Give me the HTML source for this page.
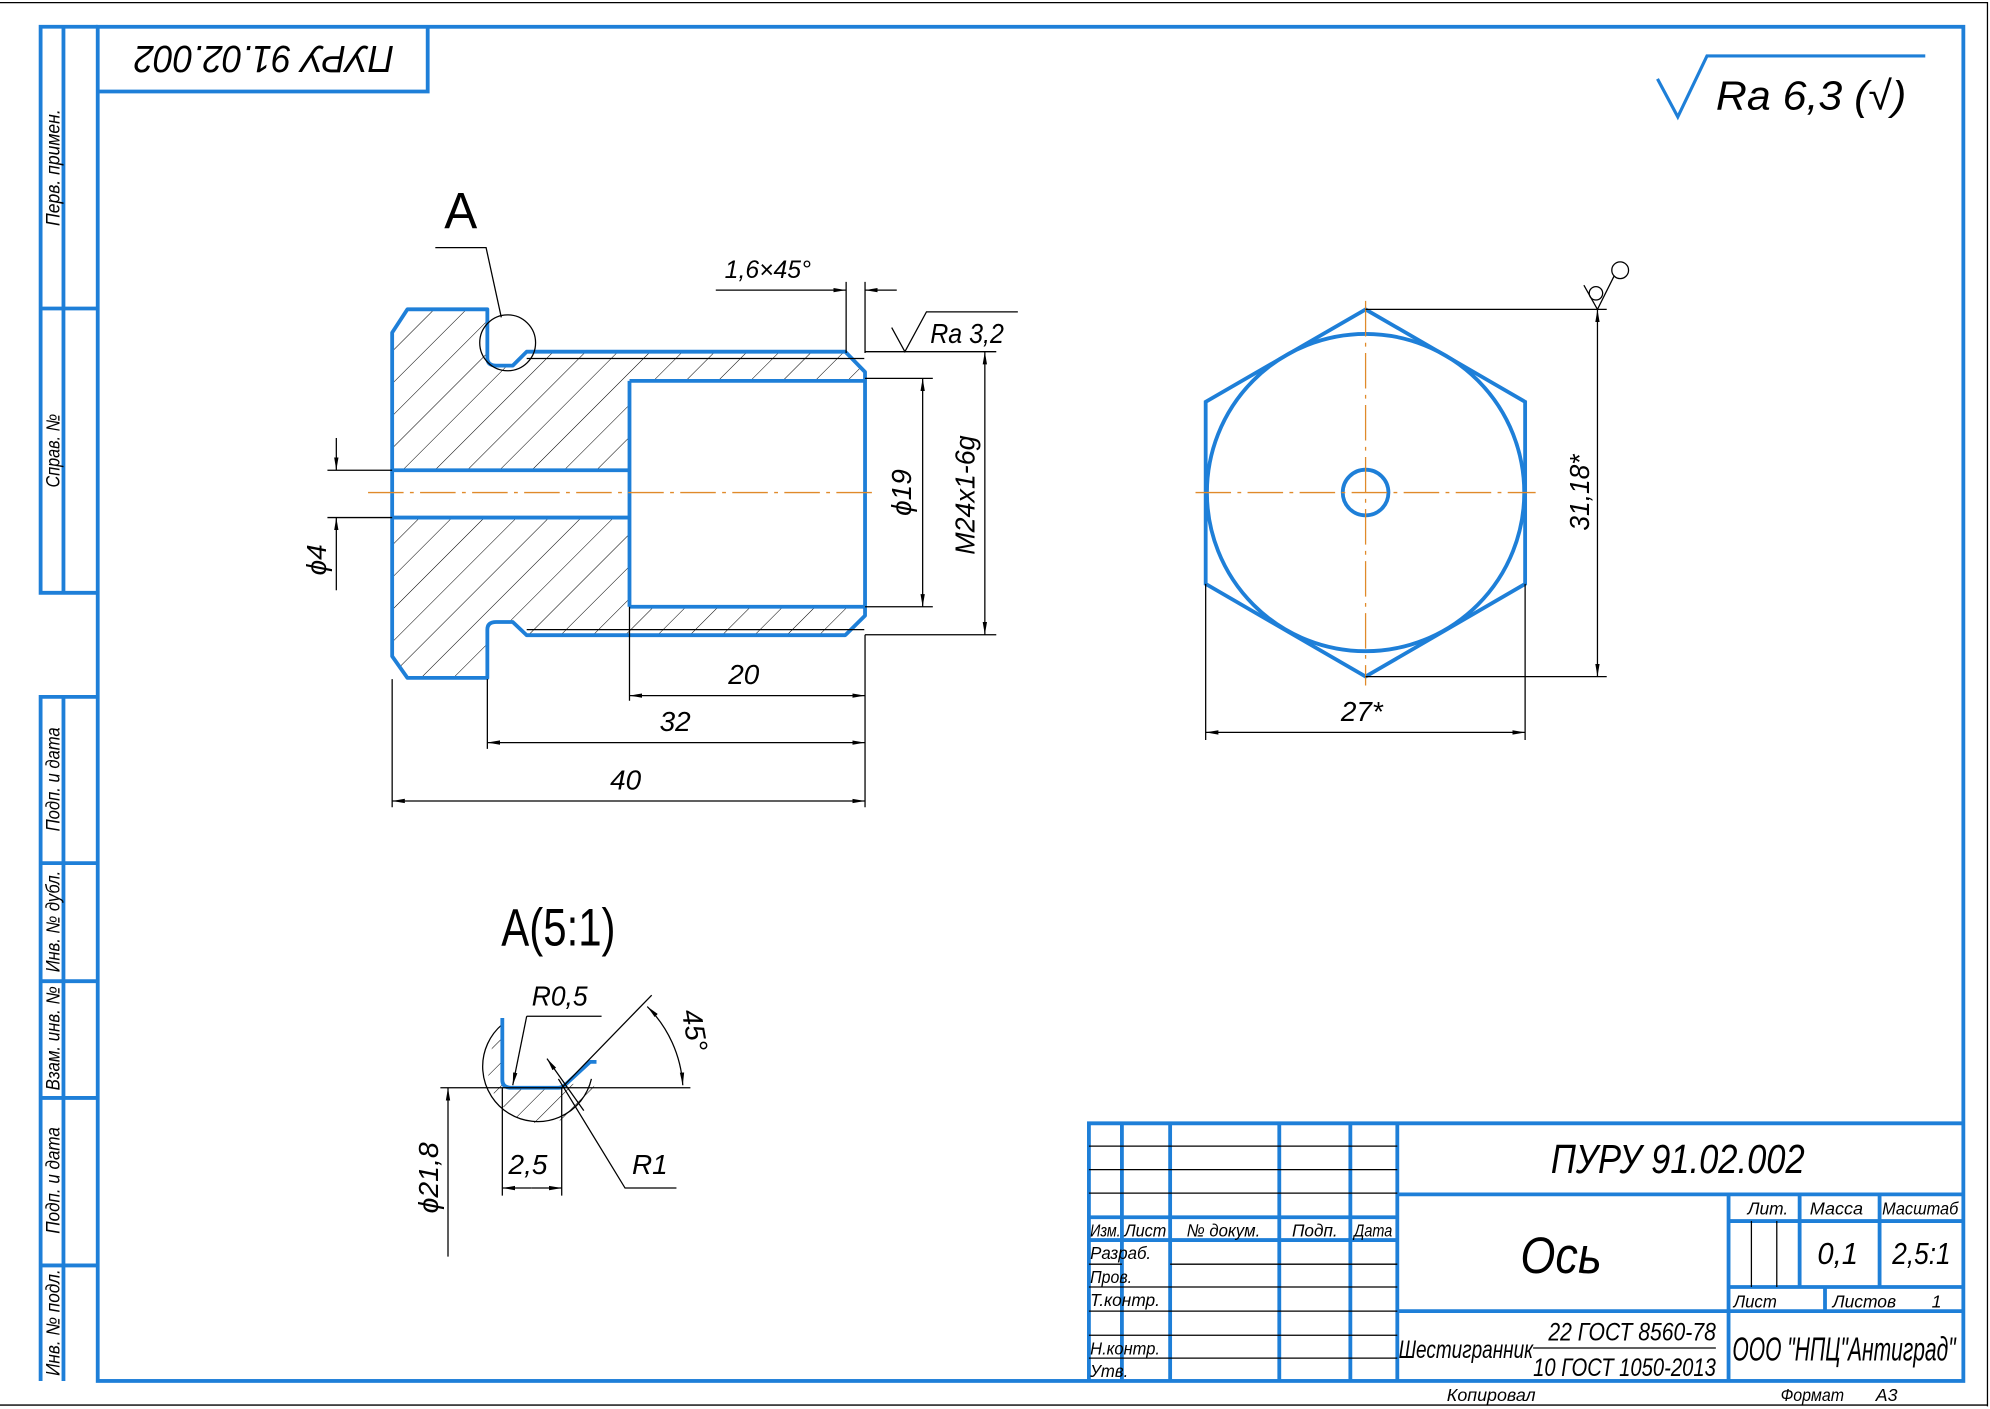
<!DOCTYPE html>
<html><head><meta charset="utf-8"><style>
html,body{margin:0;padding:0;background:#fff;}
svg{display:block;}
text{font-family:"Liberation Sans",sans-serif;font-style:italic;fill:#000;}
</style></head><body>
<svg width="1990" height="1409" viewBox="0 0 1568 1110" xmlns="http://www.w3.org/2000/svg">
<defs>
<pattern id="h" patternUnits="userSpaceOnUse" width="18" height="18" patternTransform="rotate(45)">
<line x1="0" y1="0" x2="0" y2="18" stroke="#000" stroke-width="0.8"/>
</pattern>
<pattern id="h2" patternUnits="userSpaceOnUse" width="13" height="13" patternTransform="rotate(45)">
<line x1="0" y1="0" x2="0" y2="13" stroke="#000" stroke-width="0.8"/>
</pattern>
<marker id="a" viewBox="0 0 10 4" refX="10" refY="2" markerWidth="10" markerHeight="4" markerUnits="userSpaceOnUse" orient="auto-start-reverse">
<path d="M0,0.3 L10,2 L0,3.7 Z" fill="#000"/>
</marker>
</defs>
<rect x="0" y="0" width="1568" height="1110" fill="#fff"/>
<path d="M0,2 H1566 V1108" fill="none" stroke="#000" stroke-width="1"/>
<line x1="0" y1="1107" x2="1566" y2="1107" stroke="#000" stroke-width="1"/>
<g stroke="#1e7fd8" stroke-width="3" fill="none">
<rect x="77" y="21" width="1470" height="1067"/>
<path d="M77,21 H32 V467 H77 M50,21 V467 M32,243 H77"/>
<path d="M77,549 H32 V1088 M50,549 V1088 M32,680 H77 M32,773 H77 M32,865 H77 M32,997 H77"/>
<path d="M77,72 H337 V21"/>
</g>
<g font-size="15">
<text transform="translate(47,132) rotate(-90)" text-anchor="middle" textLength="92" lengthAdjust="spacingAndGlyphs">Перв. примен.</text>
<text transform="translate(47,355) rotate(-90)" text-anchor="middle" textLength="58" lengthAdjust="spacingAndGlyphs">Справ. №</text>
<text transform="translate(47,614) rotate(-90)" text-anchor="middle" textLength="82" lengthAdjust="spacingAndGlyphs">Подп. и дата</text>
<text transform="translate(47,726) rotate(-90)" text-anchor="middle" textLength="80" lengthAdjust="spacingAndGlyphs">Инв. № дубл.</text>
<text transform="translate(47,818) rotate(-90)" text-anchor="middle" textLength="82" lengthAdjust="spacingAndGlyphs">Взам. инв. №</text>
<text transform="translate(47,930) rotate(-90)" text-anchor="middle" textLength="84" lengthAdjust="spacingAndGlyphs">Подп. и дата</text>
<text transform="translate(47,1042) rotate(-90)" text-anchor="middle" textLength="84" lengthAdjust="spacingAndGlyphs">Инв. № подл.</text>
</g>
<text transform="translate(208,36) rotate(180)" text-anchor="middle" font-size="30" textLength="205" lengthAdjust="spacingAndGlyphs">ПУРУ 91.02.002</text>

<path d="M1306,62 L1322,92 L1345,44 H1517" fill="none" stroke="#1e7fd8" stroke-width="2.5"/>
<text x="1352" y="86" font-size="32" textLength="150" lengthAdjust="spacingAndGlyphs">Ra 6,3 (√)</text>

<path d="M321,243.6 H384 V282 Q384,288 391,288 H404 L415,277 H666 L681.6,293 V485 L666,500.4 H415 L404,490 H391 Q384,490 384,496 V534 H321 L309,517 V262 Z M309,370.4 H496 V300 H681.6 V478 H496 V407.7 H309 Z" fill="url(#h)" fill-rule="evenodd" stroke="none"/>
<path d="M321,243.6 H384 V282 Q384,288 391,288 H404 L415,277 H666 L681.6,293 V485 L666,500.4 H415 L404,490 H391 Q384,490 384,496 V534 H321 L309,517 V262 Z" fill="none" stroke="#1e7fd8" stroke-width="3" stroke-linejoin="round"/>
<path d="M309,370.4 H496 M309,407.7 H496 M496,300 H681.6 M496,478 H681.6 M496,300 V478" fill="none" stroke="#1e7fd8" stroke-width="3"/>
<path d="M415,282.4 H681 M415,496 H681" stroke="#000" stroke-width="1"/>
<line x1="290" y1="388" x2="690" y2="388" stroke="#e08a2a" stroke-width="1" stroke-dasharray="28,5,3,5"/>
<circle cx="400" cy="270" r="22" fill="none" stroke="#000" stroke-width="1"/>
<path d="M343,195 H383 L395,250" fill="none" stroke="#000" stroke-width="1"/>
<text x="350" y="180" font-size="40" style="font-style:normal" textLength="26" lengthAdjust="spacingAndGlyphs">A</text>

<g stroke="#000" stroke-width="1" fill="none">
<path d="M309,535 V636 M681.6,500 V636 M384,535 V590 M496,478 V552"/>
<path d="M681.6,298 H735 M681.6,478 H735 M681.6,277 H785 M681.6,500 H785"/>
<path d="M258,370.4 H309 M258,407.7 H309"/>
<path d="M666.7,222 V278 M681.6,222 V278"/>
<line x1="309" y1="631" x2="681.6" y2="631" marker-start="url(#a)" marker-end="url(#a)"/>
<line x1="384" y1="585" x2="681.6" y2="585" marker-start="url(#a)" marker-end="url(#a)"/>
<line x1="496" y1="548" x2="681.6" y2="548" marker-start="url(#a)" marker-end="url(#a)"/>
<line x1="727" y1="298" x2="727" y2="478" marker-start="url(#a)" marker-end="url(#a)"/>
<line x1="776" y1="277" x2="776" y2="500" marker-start="url(#a)" marker-end="url(#a)"/>
<line x1="265" y1="345" x2="265" y2="370.4" marker-end="url(#a)"/>
<line x1="265" y1="465" x2="265" y2="407.7" marker-end="url(#a)"/>
<line x1="564" y1="228.5" x2="666.7" y2="228.5" marker-end="url(#a)"/>
<line x1="706.6" y1="228.5" x2="681.6" y2="228.5" marker-end="url(#a)"/>
<path d="M702.6,258 L713,277 L730,245.6 H802"/>
</g>
<g font-size="22">
<text x="493" y="622" text-anchor="middle">40</text>
<text x="532" y="576" text-anchor="middle">32</text>
<text x="586" y="539" text-anchor="middle">20</text>
<text transform="translate(718,388) rotate(-90)" text-anchor="middle">ϕ19</text>
<text transform="translate(768,390) rotate(-90)" text-anchor="middle" textLength="94" lengthAdjust="spacingAndGlyphs">M24x1-6g</text>
<text transform="translate(257,441) rotate(-90)" text-anchor="middle">ϕ4</text>
<text x="605" y="219" text-anchor="middle" font-size="20" textLength="68" lengthAdjust="spacingAndGlyphs">1,6×45°</text>
<text x="733" y="270" font-size="22" textLength="58" lengthAdjust="spacingAndGlyphs">Ra 3,2</text>
</g>

<g stroke="#1e7fd8" stroke-width="3" fill="none">
<polygon points="1076,243.7 1201.7,316.5 1201.7,460 1076,533 950,460 950,316.5"/>
<circle cx="1076" cy="388" r="125"/>
<circle cx="1076" cy="388" r="18"/>
</g>
<g stroke="#e08a2a" stroke-width="1" stroke-dasharray="28,5,3,5">
<line x1="942" y1="388" x2="1210" y2="388"/>
<line x1="1076" y1="237" x2="1076" y2="540"/>
</g>
<g stroke="#000" stroke-width="1" fill="none">
<path d="M1076,243.7 H1266 M1076,533 H1266 M950,460 V583 M1201.7,460 V583"/>
<line x1="1258.7" y1="243.7" x2="1258.7" y2="533" marker-start="url(#a)" marker-end="url(#a)"/>
<line x1="950" y1="577" x2="1201.7" y2="577" marker-start="url(#a)" marker-end="url(#a)"/>
<path d="M1248,224.6 L1258.7,243.7 L1272,217"/>
<circle cx="1257.5" cy="231" r="5.3"/>
<circle cx="1276.6" cy="212.8" r="6.6"/>
</g>
<text transform="translate(1252,388) rotate(-90)" text-anchor="middle" font-size="22" textLength="60" lengthAdjust="spacingAndGlyphs">31,18*</text>
<text x="1073" y="568" text-anchor="middle" font-size="22">27*</text>

<text x="440" y="745" text-anchor="middle" font-size="42" style="font-style:normal" textLength="90" lengthAdjust="spacingAndGlyphs">A(5:1)</text>
<path d="M395.8,813 A43,43 0 1 0 470,848 L442.6,857 H403 Q395.8,857 395.8,851 Z" fill="url(#h2)" stroke="none"/>
<path d="M395.8,807 A43.4,43.4 0 1 0 466,850" fill="none" stroke="#000" stroke-width="1"/>
<path d="M395.8,802 V851 Q395.8,857 403,857 H440 Q443,857 446,854 L465,836.6 H470" fill="none" stroke="#1e7fd8" stroke-width="3" stroke-linejoin="round"/>
<g stroke="#000" stroke-width="1" fill="none">
<path d="M347,857 H544"/>
<line x1="353" y1="990" x2="353" y2="857" marker-end="url(#a)"/>
<path d="M395.8,857 V942 M442.6,857 V942"/>
<line x1="419" y1="936" x2="395.8" y2="936" marker-end="url(#a)"/>
<line x1="419" y1="936" x2="442.6" y2="936" marker-end="url(#a)"/>
<path d="M474,800.6 H415"/>
<line x1="415" y1="800.6" x2="404" y2="855" marker-end="url(#a)"/>
<path d="M533,936 H492.5 L440,850"/>
<line x1="460" y1="875" x2="431" y2="834" marker-end="url(#a)"/>
<path d="M442.6,857 L513.5,784"/>
<path d="M510,793 A96,96 0 0 1 538,855" marker-start="url(#a)" marker-end="url(#a)"/>
</g>
<g font-size="22">
<text x="441" y="792" text-anchor="middle" textLength="44" lengthAdjust="spacingAndGlyphs">R0,5</text>
<text x="416" y="925" text-anchor="middle">2,5</text>
<text x="512" y="925" text-anchor="middle">R1</text>
<text transform="translate(345,928) rotate(-90)" text-anchor="middle" textLength="56" lengthAdjust="spacingAndGlyphs">ϕ21,8</text>
<text transform="translate(540,813) rotate(80)" text-anchor="middle">45°</text>
</g>

<g stroke="#1e7fd8" stroke-width="3" fill="none">
<path d="M858,1088 V885 H1547"/>
<path d="M884,885 V1088 M922,885 V1088 M1008,885 V1088 M1064,885 V1088 M1101,885 V1088"/>
<path d="M858,959 H1101 M858,977 H1101 M1101,941 H1547 M1101,1033 H1547 M1362,941 V1088 M1362,962 H1547 M1418,941 V1014 M1481,941 V1014 M1362,1014 H1547 M1438,1014 V1033"/>
</g>
<g stroke="#000" stroke-width="1">
<path d="M858,903 H1101 M858,921.5 H1101 M858,940 H1101 M922,996 H1101 M858,996 H884 M922,1014 H1101 M922,1052 H1101 M858,1052 H922 M858,1070 H1101 M858,1014 H922 M858,1033 H922 M922,1033 H1101"/>
<path d="M1380,962 V1014 M1400,962 V1014 M1208,1062 H1352"/>
</g>
<g font-size="14">
<text x="859" y="974" textLength="24" lengthAdjust="spacingAndGlyphs">Изм.</text>
<text x="886" y="974" textLength="33" lengthAdjust="spacingAndGlyphs">Лист</text>
<text x="935" y="974" textLength="58" lengthAdjust="spacingAndGlyphs">№ докум.</text>
<text x="1018" y="974" textLength="36" lengthAdjust="spacingAndGlyphs">Подп.</text>
<text x="1067" y="974" textLength="30" lengthAdjust="spacingAndGlyphs">Дата</text>
<text x="859" y="992" textLength="48" lengthAdjust="spacingAndGlyphs">Разраб.</text>
<text x="859" y="1011" textLength="33" lengthAdjust="spacingAndGlyphs">Пров.</text>
<text x="859" y="1029" textLength="55" lengthAdjust="spacingAndGlyphs">Т.контр.</text>
<text x="859" y="1067" textLength="55" lengthAdjust="spacingAndGlyphs">Н.контр.</text>
<text x="859" y="1085" textLength="30" lengthAdjust="spacingAndGlyphs">Утв.</text>
<text x="1377" y="957" textLength="32" lengthAdjust="spacingAndGlyphs">Лит.</text>
<text x="1426" y="957" textLength="42" lengthAdjust="spacingAndGlyphs">Масса</text>
<text x="1483" y="957" textLength="60" lengthAdjust="spacingAndGlyphs">Масштаб</text>
<text x="1366" y="1030" textLength="34" lengthAdjust="spacingAndGlyphs">Лист</text>
<text x="1444" y="1030" textLength="50" lengthAdjust="spacingAndGlyphs">Листов</text>
<text x="1522" y="1030">1</text>
<text x="1140" y="1104" textLength="70" lengthAdjust="spacingAndGlyphs">Копировал</text>
<text x="1403" y="1104" textLength="50" lengthAdjust="spacingAndGlyphs">Формат</text>
<text x="1478" y="1104">А3</text>
</g>
<text x="1322" y="924" text-anchor="middle" font-size="32" textLength="200" lengthAdjust="spacingAndGlyphs">ПУРУ 91.02.002</text>
<text x="1230" y="1003" text-anchor="middle" font-size="40" textLength="64" lengthAdjust="spacingAndGlyphs">Ось</text>
<text x="1448" y="996" text-anchor="middle" font-size="24" textLength="32" lengthAdjust="spacingAndGlyphs">0,1</text>
<text x="1514" y="996" text-anchor="middle" font-size="24" textLength="46" lengthAdjust="spacingAndGlyphs">2,5:1</text>
<text x="1102" y="1070" font-size="20" textLength="106" lengthAdjust="spacingAndGlyphs">Шестигранник</text>
<text x="1352" y="1056" text-anchor="end" font-size="20" textLength="132" lengthAdjust="spacingAndGlyphs">22 ГОСТ 8560-78</text>
<text x="1352" y="1084" text-anchor="end" font-size="20" textLength="144" lengthAdjust="spacingAndGlyphs">10 ГОСТ 1050-2013</text>
<text x="1365" y="1072" font-size="26" textLength="176" lengthAdjust="spacingAndGlyphs">ООО "НПЦ"Антиград"</text>
</svg>
</body></html>
